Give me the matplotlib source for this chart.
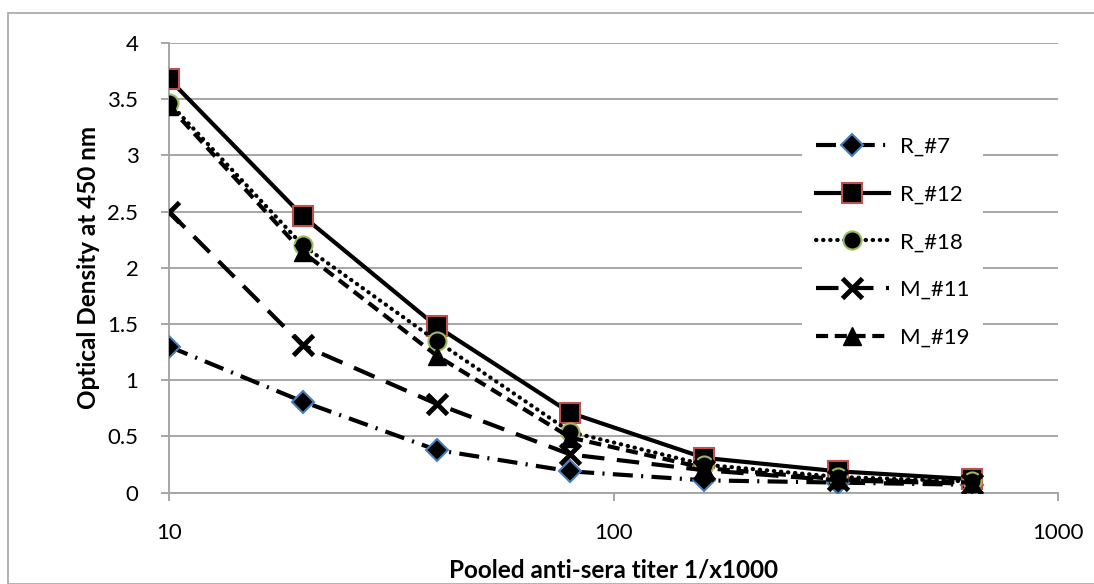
import matplotlib
matplotlib.use('Agg')
import matplotlib.pyplot as plt
import matplotlib.patches as mpatches
from matplotlib.ticker import FixedLocator, NullLocator, FixedFormatter

plt.rcParams['font.family'] = ['Lato', 'DejaVu Sans']

titers = [10, 20, 40, 80, 160, 320, 640]
r7 = [1.30, 0.81, 0.38, 0.19, 0.11, 0.09, 0.07]
r12 = [3.68, 2.46, 1.48, 0.71, 0.31, 0.19, 0.12]
r18 = [3.47, 2.20, 1.35, 0.54, 0.25, 0.14, 0.10]
m11 = [2.50, 1.31, 0.79, 0.34, 0.20, 0.11, 0.08]
m19 = [3.44, 2.14, 1.22, 0.49, 0.22, 0.12, 0.09]
labels = ['R_#7', 'R_#12', 'R_#18', 'M_#11', 'M_#19']

fig = plt.figure(figsize=(10.94, 5.84), dpi=100)
ax = fig.add_axes([169 / 1094, 1 - 492.7 / 584, 889 / 1094, 449.7 / 584])

# outer chart border
fig.patches.append(mpatches.Rectangle((8 / 1094, 0), 1.1, 1 - 13 / 584, transform=fig.transFigure,
                                      fill=False, edgecolor='#a6a6a6', linewidth=1.2))

lw = 3.0
ax.plot(titers, r7, color='black', lw=lw, linestyle=(0, (4.8, 2.0, 0.5, 2.0)),
        marker='D', ms=11.5, mfc='black', mec='#4a7ebb', mew=1.5, label=labels[0], zorder=3)
ax.plot(titers, r12, color='black', lw=lw, linestyle='-',
        marker='s', ms=14, mfc='black', mec='#c0504d', mew=1.5, label=labels[1], zorder=3)
ax.plot(titers, r18, color='black', lw=lw, linestyle=(0, (0.1, 1.6)), dash_capstyle='round',
        marker='o', ms=13, mfc='black', mec='#9bbb59', mew=1.5, label=labels[2], zorder=3)
ax.plot(titers, m11, color='black', lw=lw, linestyle=(0, (5.4, 3.0)),
        marker='x', ms=14, mew=3.5, label=labels[3], zorder=3)
ax.plot(titers, m19, color='black', lw=lw, linestyle=(0, (2.9, 1.6)),
        marker='^', ms=13, mfc='black', mec='black', label=labels[4], zorder=3)

ax.set_xscale('log')
ax.set_xlim(10, 1000)
ax.set_ylim(0, 4)
ax.xaxis.set_major_locator(FixedLocator([10, 100, 1000]))
ax.xaxis.set_major_formatter(FixedFormatter(['10', '100', '1000']))
ax.xaxis.set_minor_locator(NullLocator())
ax.set_yticks([0, 0.5, 1, 1.5, 2, 2.5, 3, 3.5, 4])
ax.set_yticklabels(['0', '0.5', '1', '1.5', '2', '2.5', '3', '3.5', '4'])

ax.grid(axis='y', color='#a6a6a6', lw=1.4)
ax.set_axisbelow(True)
for s in ['top', 'right']:
    ax.spines[s].set_visible(False)
for s in ['left', 'bottom']:
    ax.spines[s].set_color('#a6a6a6')
    ax.spines[s].set_linewidth(1.4)
ax.tick_params(axis='both', color='#a6a6a6', width=1.4, length=6, labelsize=16)
ax.tick_params(axis='x', pad=16)
ax.tick_params(axis='y', pad=16)

ax.set_xlabel('Pooled anti-sera titer 1/x1000', fontsize=17.5, fontweight='bold', labelpad=11)
ax.set_ylabel('Optical Density at 450 nm', fontsize=17.5, fontweight='bold', labelpad=5)

leg = ax.legend(loc='center left', bbox_to_anchor=(0.70, 0.557), frameon=True, fancybox=False,
                edgecolor='none', facecolor='white', framealpha=1, fontsize=16,
                handlelength=3.3, handletextpad=0.5, labelspacing=1.25, borderpad=0.6)

fig.savefig('out.png', dpi=100)
